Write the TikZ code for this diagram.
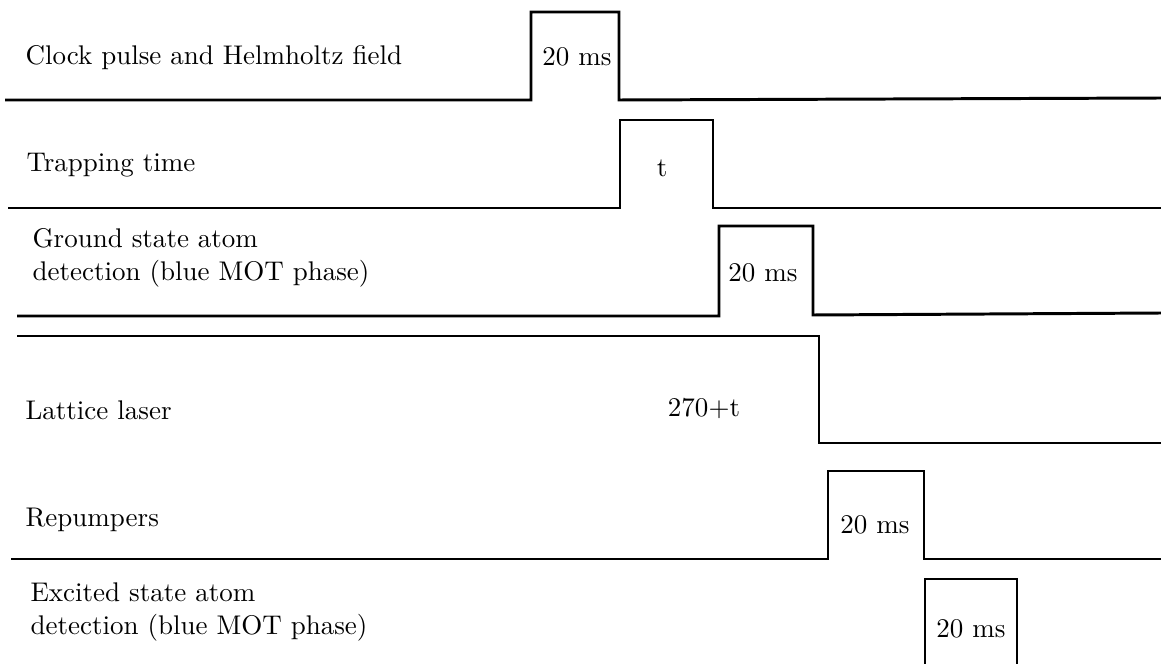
\documentclass[tikz,border=0pt]{standalone}
\usepackage{tikz}
\usetikzlibrary{positioning}
\tikzset{
    wave/.style={line width=1.1pt, line join=miter, color=black},
    signame/.style={anchor=west, align=left, inner sep=0pt, font=\normalsize},
    pulselbl/.style={inner sep=0pt, font=\normalsize}
}
\begin{document}
\begin{tikzpicture}[x=0.01302cm, y=-0.01302cm]
\useasboundingbox (0,0) rectangle (1161,664);

\node[signame] (clock) at (25,58) {Clock pulse and Helmholtz field};
\node[signame] (trap) at (26,165) {Trapping time};
\node[signame] (ground) at (32,258) {Ground state atom\\detection (blue MOT phase)};
\node[signame] (lattice) at (25,410) {Lattice laser};
\node[signame] (repump) at (25,520) {Repumpers};
\node[signame] (excited) at (30,612) {Excited state atom\\detection (blue MOT phase)};

\node[pulselbl] (clockw) at (577,57) {20 ms};
\node[pulselbl] (trapw) at (662,168) {t};
\node[pulselbl] (groundw) at (763,273) {20 ms};
\node[pulselbl] (latticew) at (704,408) {270+t};
\node[pulselbl] (repumpw) at (875,525) {20 ms};
\node[pulselbl] (excitedw) at (971,629) {20 ms};

\draw[wave] (5,100) -- (531,100) -- (531,12) -- (619,12) -- (619,100) -- (1161,98);
\draw[wave] (8,208) -- (620,208) -- (620,120) -- (713,120) -- (713,208) -- (1161,208);
\draw[wave] (17,316) -- (719,316) -- (719,226) -- (813,226) -- (813,315) -- (1161,313);
\draw[wave] (17,336) -- (819,336) -- (819,443) -- (1161,443);
\draw[wave] (11,559) -- (828,559) -- (828,471) -- (924,471) -- (924,559) -- (1161,559);
\draw[wave] (925,664) -- (925,579) -- (1017,579) -- (1017,664);

\end{tikzpicture}
\end{document}
